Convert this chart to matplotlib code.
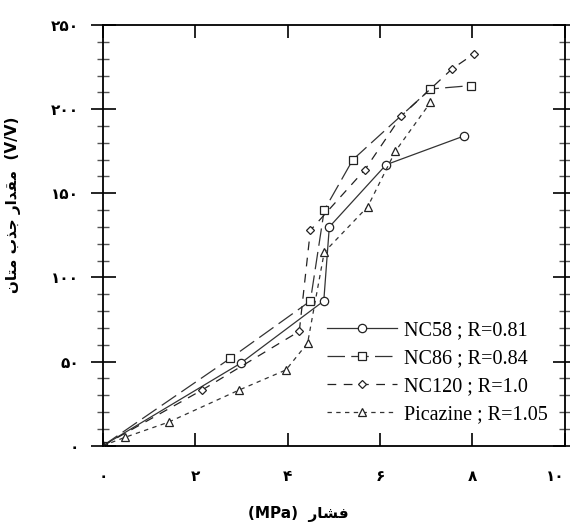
import matplotlib
matplotlib.use('Agg')
import matplotlib.pyplot as plt
from matplotlib.ticker import MultipleLocator

# --- data (pressure MPa, methane uptake V/V) ---
nc58_x = [0, 2.98, 4.78, 4.90, 6.13, 7.81]
nc58_y = [0, 49, 86, 130, 167, 184]

nc86_x = [0, 2.76, 4.49, 4.79, 5.41, 7.09, 7.96]
nc86_y = [0, 52, 86, 140, 170, 212, 214]

nc120_x = [0, 2.14, 4.25, 4.49, 5.67, 6.46, 7.56, 8.04]
nc120_y = [0, 33, 68, 128, 164, 196, 224, 233]

pica_x = [0, 0.48, 1.42, 2.94, 3.96, 4.43, 4.79, 5.73, 6.33, 7.09]
pica_y = [0, 5, 14, 33, 45, 61, 115, 142, 175, 204]

labels = ['NC58 ; R=0.81', 'NC86 ; R=0.84', 'NC120 ; R=1.0', 'Picazine ; R=1.05']
xticks = [0, 2, 4, 6, 8, 10]
yticks = [0, 50, 100, 150, 200, 250]

# tiny Persian shaper (presentation forms, visual order) for the label words
FORMS = {
    'ا': (0xFE8D, 0xFE8E, None, None),
    'ب': (0xFE8F, 0xFE90, 0xFE91, 0xFE92),
    'ت': (0xFE95, 0xFE96, 0xFE97, 0xFE98),
    'ج': (0xFE9D, 0xFE9E, 0xFE9F, 0xFEA0),
    'د': (0xFEA9, 0xFEAA, None, None),
    'ذ': (0xFEAB, 0xFEAC, None, None),
    'ر': (0xFEAD, 0xFEAE, None, None),
    'ش': (0xFEB5, 0xFEB6, 0xFEB7, 0xFEB8),
    'ف': (0xFED1, 0xFED2, 0xFED3, 0xFED4),
    'ق': (0xFED5, 0xFED6, 0xFED7, 0xFED8),
    'م': (0xFEE1, 0xFEE2, 0xFEE3, 0xFEE4),
    'ن': (0xFEE5, 0xFEE6, 0xFEE7, 0xFEE8),
}


def joins_left(c):
    return c in FORMS and FORMS[c][2] is not None


def shape_fa(text):
    out = []
    for i, c in enumerate(text):
        if c not in FORMS:
            out.append(c)
            continue
        prev = i > 0 and joins_left(text[i - 1])
        nxt = i + 1 < len(text) and text[i + 1] in FORMS and joins_left(c)
        iso, fin, ini, med = FORMS[c]
        if prev and nxt:
            code = med
        elif prev:
            code = fin
        elif nxt:
            code = ini
        else:
            code = iso
        out.append(chr(code))
    return ''.join(reversed(out))


def fa_digits(n):
    return str(n).translate(str.maketrans('0123456789', '۰۱۲۳۴۵۶۷۸۹'))


plt.rcParams['font.family'] = ['DejaVu Sans', 'Noto Sans']

fig = plt.figure(figsize=(5.7, 5.22), dpi=100)
ax = fig.add_axes([0.1807, 0.1462, 0.8103, 0.8058])

mk = dict(markerfacecolor='white', markeredgecolor='#222222', markeredgewidth=0.9, markersize=6)
ax.plot(nc58_x, nc58_y, '-', color='#333333', lw=0.9, marker='o', label=labels[0], **mk)
ax.plot(nc86_x, nc86_y, color='#333333', lw=0.9, dashes=(14, 5), marker='s', label=labels[1], **mk)
ax.plot(nc120_x, nc120_y, color='#222222', lw=0.9, dashes=(7, 6), marker='D',
        label=labels[2], **dict(mk, markersize=4.5))
ax.plot(pica_x, pica_y, color='#333333', lw=0.9, dashes=(3.5, 3.5), marker='^', label=labels[3], **mk)

ax.set_xlim(0, 10)
ax.set_ylim(0, 250)
ax.set_xticks(xticks)
ax.set_yticks(yticks)
ax.yaxis.set_minor_locator(MultipleLocator(10))
xl = ax.set_xticklabels([fa_digits(t) for t in xticks], fontweight='bold', fontsize=11)
ax.set_yticklabels([fa_digits(t) for t in yticks], fontweight='bold', fontsize=11)
xl[-1].set_horizontalalignment('right')

ax.tick_params(axis='x', which='major', direction='in', length=9.5, width=1.2,
               top=True, bottom=True, pad=17)
ax.tick_params(axis='y', which='major', direction='inout', length=18, width=1.2,
               left=True, right=True, pad=8)
ax.tick_params(axis='y', which='minor', direction='inout', length=9, width=1.0,
               left=True, right=True, color='#555555')
for s in ax.spines.values():
    s.set_linewidth(1.3)

ax.set_xlabel('(MPa)  ' + shape_fa('فشار'), fontweight='bold', fontsize=11)
ax.xaxis.set_label_coords(0.422, -0.143)
ax.set_ylabel(shape_fa('مقدار جذب متان') + '  (V/V)', fontweight='bold', fontsize=11)
ax.yaxis.set_label_coords(-0.177, 0.572)

ax.legend(loc='lower right', bbox_to_anchor=(0.99, 0.022), frameon=False,
          prop={'family': 'Liberation Serif', 'size': 14.5},
          handlelength=3.5, handletextpad=0.35, labelspacing=0.45, borderaxespad=0.2)

fig.savefig('out.png', dpi=100)
